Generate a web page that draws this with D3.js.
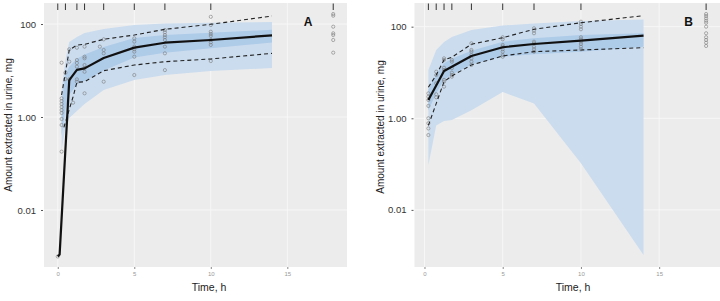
<!DOCTYPE html>
<html>
<head>
<meta charset="utf-8">
<script src="https://cdn.jsdelivr.net/npm/d3@7"></script>
<style>
  body { margin: 0; background: #fff; }
  text { font-family: "Liberation Sans", Arial, sans-serif; }
</style>
</head>
<body>
<svg id="chart" width="720" height="301"></svg>
<script>
// ---- data: panel A ----
const rugA = [0, 0.5, 1.25, 1.75, 3, 5, 7, 10, 18];
const bandTA = [0.25, 0.5, 0.75, 1.25, 1.75, 3, 5, 7, 10, 14];
const outerHiA = [3.8, 16.8, 41, 52.5, 64, 78, 95, 103, 107, 110];
const outerLoA = [0.195, 0.58, 0.95, 1.35, 1.9, 3.8, 6.25, 8, 9.8, 11.3];
const medHiA = [2, 8, 12, 18, 22, 32, 50, 58, 65, 75];
const medLoA = [0.4, 1.5, 3, 5, 6, 10, 19, 24, 30, 40];
const lineTA = [0, 0.12, 0.75, 1.25, 1.75, 3, 5, 7, 10, 14];
const lineVA = [0.001, 0.0011, 6.2, 10.3, 11.1, 18.6, 31, 39.6, 45.3, 57.1];
const upTA = [0.25, 0.75, 1.25, 1.75, 3, 5, 7, 10, 14];
const upVA = [2.97, 27.6, 35.3, 36.6, 46.9, 58, 76.9, 98.6, 148.6];
const loTA = [0.4, 1.0, 1.25, 1.75, 3, 5, 7, 10, 14];
const loVA = [0.6, 2.73, 5.58, 5.74, 9.9, 13.1, 15.5, 17.7, 23.4];
const obsA = [
  [0, 0.001],
  [0.25, 0.18], [0.25, 14.7], [0.25, 2.52], [0.25, 2.2], [0.25, 1.9], [0.25, 1.64],
  [0.25, 1.41], [0.25, 1.22], [0.25, 0.906], [0.25, 0.673],
  [0.5, 8.97], [0.5, 6.56],
  [0.75, 28.6], [0.75, 15.5], [0.75, 6.45],
  [1, 2.03],
  [1.25, 30.9], [1.25, 16.8], [1.25, 14.5], [1.25, 12.1], [1.25, 6.45], [1.25, 5.75],
  [1.75, 32.6], [1.75, 19.8], [1.75, 18.3], [1.75, 13.1], [1.75, 11.3], [1.75, 9.4], [1.75, 3.23],
  [2.75, 32.6],
  [3, 46.8], [3, 27.6], [3, 23.4], [3, 5.75],
  [5, 49.2], [5, 41.8], [5, 32.6], [5, 28.6], [5, 25.4], [5, 19.8], [5, 8.0],
  [7, 74.3], [7, 66.4], [7, 58], [7, 51.9], [7, 45.3], [7, 32.6], [7, 23.4], [7, 10.2],
  [10, 143], [10, 95.3], [10, 68.3], [10, 61], [10, 55.3], [10, 45.3], [10, 40.4], [10, 35.5], [10, 16.0],
  [18, 164], [18, 151], [18, 87.6], [18, 63.1], [18, 58], [18, 45.3], [18, 24.2]
];

// ---- data: panel B ----
const rugB = [0.25, 0.75, 1.25, 1.75, 3, 5, 7, 10, 18];
const bandTB = [0.25, 0.75, 1.25, 1.75, 3, 5, 7, 10, 14];
const outerHiB = [11.3, 31, 46.4, 59.6, 84.7, 106, 117.5, 133, 143.6];
const outerLoB = [0.095, 0.7, 0.87, 0.92, 1.5, 3.75, 2.1, 0.104, 0.00104];
const medHiB = [4.2, 9, 16, 20, 30, 47, 56, 66, 72];
const medLoB = [1.5, 3.5, 6.9, 9, 15, 22, 25, 28.5, 36.6];
const lineTB = [0.25, 1.25, 3, 5, 7, 10, 14];
const lineVB = [2.5, 10.8, 22.9, 35.5, 41.9, 49.4, 63.6];
const upTB = [0.25, 0.75, 1.25, 1.75, 3, 5, 7, 10, 14];
const upVB = [4.75, 8.8, 18.7, 21.5, 41.3, 57.5, 87.7, 122, 174];
const loTB = [0.25, 1.25, 1.75, 3, 5, 7, 10, 14];
const loVB = [0.7, 6.3, 8.4, 14.6, 22.9, 28.5, 31, 34.8];
const obsB = [
  [0.25, 3.5], [0.25, 2.96], [0.25, 2.51], [0.25, 1.86], [0.25, 1.0], [0.25, 0.78], [0.25, 0.6], [0.25, 0.43],
  [0.75, 10.4], [0.75, 8.8], [0.75, 5.8], [0.75, 3.34], [0.75, 2.87],
  [1.25, 20.4], [1.25, 18.8], [1.25, 12.7], [1.25, 11.3], [1.25, 6.9], [1.25, 6.3], [1.25, 4.9],
  [1.75, 18.8], [1.75, 17.2], [1.75, 12.4], [1.75, 9.9], [1.75, 8.8], [1.75, 8.1],
  [3, 43.4], [3, 31], [3, 28.5], [3, 24.1], [3, 20.4], [3, 17.2], [3, 14.6],
  [5, 58.7], [5, 53.1], [5, 39.8], [5, 36.6], [5, 32.1], [5, 28.5], [5, 24.1], [5, 22.1],
  [7, 92.3], [7, 81.8], [7, 71.8], [7, 47], [7, 43.4], [7, 36.6], [7, 32.1], [7, 28.5],
  [10, 128.5], [10, 114.6], [10, 100], [10, 87.7], [10, 58.7], [10, 53.1], [10, 47], [10, 41.9], [10, 36.6], [10, 32.1],
  [18, 189], [18, 171], [18, 152], [18, 135], [18, 122], [18, 100], [18, 71.8], [18, 58.7], [18, 51.3], [18, 44.7], [18, 37.9]
];

// ---- shared axis labels ----
const xTicks = [0, 5, 10, 15];
const yTicks = [0.01, 1, 100];
const yTickLabels = ["0.01", "1.00", "100"];

const svg = d3.select("#chart");

const panels = [
  {label: "A", left: 44, right: 347, yLog: [-3.226, 2.452], rug: rugA, bandT: bandTA,
   outerHi: outerHiA, outerLo: outerLoA, medHi: medHiA, medLo: medLoA,
   lineT: lineTA, lineV: lineVA, upT: upTA, upV: upVA, loT: loTA, loV: loVA, obs: obsA,
   yTitleX: 11.5, yTitleY: 125, xTitleX: 209, letterX: 308},
  {label: "B", left: 414.5, right: 720, yLog: [-3.247, 2.517], rug: rugB, bandT: bandTB,
   outerHi: outerHiB, outerLo: outerLoB, medHi: medHiB, medLo: medLoB,
   lineT: lineTB, lineV: lineVB, upT: upTB, upV: upVB, loT: loTB, loV: loVB, obs: obsB,
   yTitleX: 383.5, yTitleY: 127, xTitleX: 573, letterX: 688.5}
];

const plotTop = 3, plotBottom = 267;

panels.forEach(p => {
  const g = svg.append("g");
  const [t0, t1] = d3.extent(p.rug);
  const pad = (t1 - t0) * 0.05;
  const x = d3.scaleLinear().domain([t0 - pad, t1 + pad]).range([p.left, p.right]);
  const y = d3.scaleLog().domain([10 ** p.yLog[0], 10 ** p.yLog[1]]).range([plotBottom, plotTop]);

  // panel background + grid
  g.append("rect")
    .attr("x", p.left).attr("y", plotTop)
    .attr("width", p.right - p.left).attr("height", plotBottom - plotTop)
    .attr("fill", "#ececec");
  g.selectAll(".gx").data(xTicks).enter().append("line")
    .attr("x1", d => x(d)).attr("x2", d => x(d))
    .attr("y1", plotTop).attr("y2", plotBottom)
    .attr("stroke", "#fafafa").attr("stroke-width", 0.8);
  g.selectAll(".gy").data(yTicks).enter().append("line")
    .attr("x1", p.left).attr("x2", p.right)
    .attr("y1", d => y(d)).attr("y2", d => y(d))
    .attr("stroke", "#fafafa").attr("stroke-width", 0.8);

  // bands
  const idx = d3.range(p.bandT.length);
  const area = (lo, hi) => d3.area()
    .x(i => x(p.bandT[i]))
    .y0(i => y(lo[i]))
    .y1(i => y(hi[i]));
  g.append("path").datum(idx)
    .attr("d", area(p.outerLo, p.outerHi))
    .attr("fill", "#cbdcee");
  g.append("path").datum(idx)
    .attr("d", area(p.medLo, p.medHi))
    .attr("fill", "#aecbe8");

  // observed points
  g.selectAll(".obs").data(p.obs).enter().append("circle")
    .attr("cx", d => x(d[0])).attr("cy", d => y(d[1]))
    .attr("r", 1.6)
    .attr("fill", "none")
    .attr("stroke", "#7a7a7a")
    .attr("stroke-width", 0.6);

  // percentile lines
  const line = d3.line().x(d => x(d[0])).y(d => y(d[1]));
  const zip = (ts, vs) => ts.map((t, i) => [t, vs[i]]);
  g.append("path").datum(zip(p.upT, p.upV))
    .attr("d", line).attr("fill", "none")
    .attr("stroke", "#222").attr("stroke-width", 1.1).attr("stroke-dasharray", "4,3");
  g.append("path").datum(zip(p.loT, p.loV))
    .attr("d", line).attr("fill", "none")
    .attr("stroke", "#222").attr("stroke-width", 1.1).attr("stroke-dasharray", "4,3");
  g.append("path").datum(zip(p.lineT, p.lineV))
    .attr("d", line).attr("fill", "none")
    .attr("stroke", "#111").attr("stroke-width", 2.2)
    .style("stroke-linejoin", "round");

  // rug of sampling times
  g.selectAll(".rug").data(p.rug).enter().append("line")
    .attr("x1", d => x(d)).attr("x2", d => x(d))
    .attr("y1", plotTop + 0.5).attr("y2", plotTop + 7)
    .attr("stroke", "#333").attr("stroke-width", 1);

  // axes
  const xAxis = d3.axisBottom(x).tickValues(xTicks).tickSize(2).tickPadding(3);
  g.append("g").attr("transform", `translate(0,${plotBottom})`).call(xAxis)
    .call(a => a.select(".domain").remove())
    .call(a => a.selectAll("line").attr("stroke", "#888"))
    .call(a => a.selectAll("text").attr("fill", "#999").attr("font-size", 6));
  const yAxis = d3.axisLeft(y).tickValues(yTicks)
    .tickFormat((d, i) => yTickLabels[i]).tickSize(2).tickPadding(5);
  g.append("g").attr("transform", `translate(${p.left - 1},0)`).call(yAxis)
    .call(a => a.select(".domain").remove())
    .call(a => a.selectAll("line").attr("stroke", "#555"))
    .call(a => a.selectAll("text").attr("fill", "#333").attr("font-size", 9.5));

  // titles
  g.append("text")
    .attr("x", p.xTitleX).attr("y", 291)
    .attr("text-anchor", "middle").attr("font-size", 10.5).attr("fill", "#222")
    .text("Time, h");
  g.append("text")
    .attr("transform", `translate(${p.yTitleX},${p.yTitleY}) rotate(-90)`)
    .attr("text-anchor", "middle").attr("font-size", 10).attr("fill", "#222")
    .text("Amount extracted in urine, mg");
  g.append("text")
    .attr("x", p.letterX).attr("y", 25.5)
    .attr("text-anchor", "middle").attr("font-size", 12).attr("font-weight", "bold")
    .attr("fill", "#111")
    .text(p.label);
});
</script>
</body>
</html>
